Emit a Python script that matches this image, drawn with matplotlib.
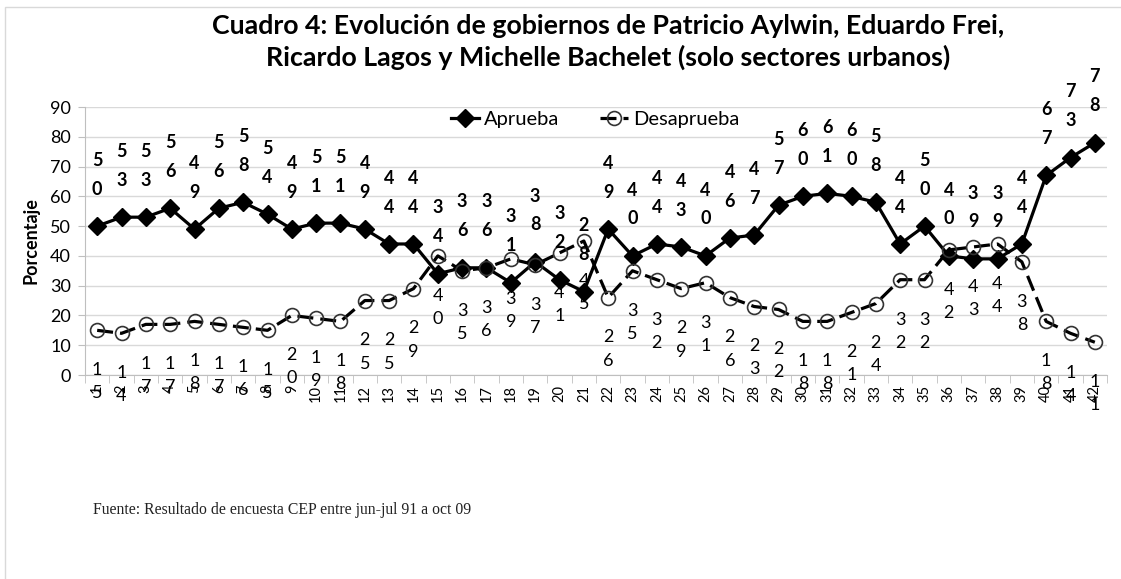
import matplotlib
matplotlib.use("Agg")
import matplotlib.pyplot as plt
from matplotlib.patches import Rectangle

categories = list(range(1, 43))
aprueba = [50, 53, 53, 56, 49, 56, 58, 54, 49, 51, 51, 49, 44, 44, 34, 36, 36, 31, 38, 32, 28,
           49, 40, 44, 43, 40, 46, 47, 57, 60, 61, 60, 58, 44, 50, 40, 39, 39, 44, 67, 73, 78]
desaprueba = [15, 14, 17, 17, 18, 17, 16, 15, 20, 19, 18, 25, 25, 29, 40, 35, 36, 39, 37, 41, 45,
              26, 35, 32, 29, 31, 26, 23, 22, 18, 18, 21, 24, 32, 32, 42, 43, 44, 38, 18, 14, 11]
yticks = list(range(0, 91, 10))

title = ("Cuadro 4: Evolución de gobiernos de Patricio Aylwin, Eduardo Frei,\n"
         "Ricardo Lagos y Michelle Bachelet (solo sectores urbanos)")
source = "Fuente: Resultado de encuesta CEP entre jun-jul 91 a oct 09"

plt.rcParams['font.family'] = ['Lato', 'DejaVu Sans']

fig = plt.figure(figsize=(11.21, 5.79), dpi=100)
ax = fig.add_axes([85/1121, 1 - 375/579, 1022/1121, 268/579])

# chart border (left and top edges visible)
fig.patches.append(Rectangle((5/1121, -0.1), 1.2, 1.1 - 7/579, transform=fig.transFigure,
                             fill=False, edgecolor='#d9d9d9', lw=1.0))

ax.plot(categories, aprueba, color='black', lw=2.3, marker='D', markersize=9.5,
        markerfacecolor='black', markeredgecolor='black', zorder=3, label='Aprueba')
ax.plot(categories, desaprueba, color='black', lw=2.3, dashes=(5, 2.2), marker='o',
        markersize=10, markerfacecolor='none', markeredgecolor='#333333',
        markeredgewidth=1.2, zorder=4, label='Desaprueba')

for x, v in zip(categories, aprueba):
    s = str(v)
    ax.annotate(s[0] + "\n" + s[1], (x, v), xytext=(0, 37), textcoords='offset points',
                ha='center', va='center', fontsize=13, fontweight='bold',
                linespacing=1.85, annotation_clip=False, zorder=6)
for x, v in zip(categories, desaprueba):
    s = str(v)
    ax.annotate(s[0] + "\n" + s[1], (x, v), xytext=(0, -37), textcoords='offset points',
                ha='center', va='center', fontsize=13, linespacing=1.55,
                annotation_clip=False, zorder=6)

ax.set_xlim(0.5, 42.5)
ax.set_ylim(0, 90)
ax.set_yticks(yticks)
ax.set_yticklabels([str(t) for t in yticks], fontsize=13)
ax.set_xticks(categories)
ax.set_xticklabels([str(c) for c in categories], rotation=90, fontsize=10.5)
ax.set_xticks([c + 0.5 for c in range(0, 43)], minor=True)
ax.tick_params(axis='x', which='major', length=0, pad=7)
ax.tick_params(axis='x', which='minor', length=6, color='#bfbfbf')
ax.tick_params(axis='y', length=5, color='#bfbfbf', pad=5)
ax.grid(axis='y', color='#d9d9d9', lw=1.0)
ax.set_axisbelow(True)
for sp in ['top', 'right']:
    ax.spines[sp].set_visible(False)
ax.spines['left'].set_color('#bfbfbf')
ax.spines['bottom'].set_color('#bfbfbf')

ax.set_ylabel('Porcentaje', fontsize=13, fontweight='bold', labelpad=8)

leg = ax.legend(loc='center', bbox_to_anchor=(0.499, 0.955), ncol=2, frameon=False,
                handlelength=1.4, columnspacing=2.0, handletextpad=0.25,
                prop={'size': 14.5})
leg.set_zorder(5)

fig.text(608/1121, 1 - 42/579, title, ha='center', va='center', fontsize=19.3,
         fontweight='bold', linespacing=1.35)
fig.text(93/1121, 1 - 510/579, source, ha='left', va='center', fontsize=11.3,
         family=['Liberation Serif', 'DejaVu Serif'], color='#222222')

fig.savefig('out.png', dpi=100)
